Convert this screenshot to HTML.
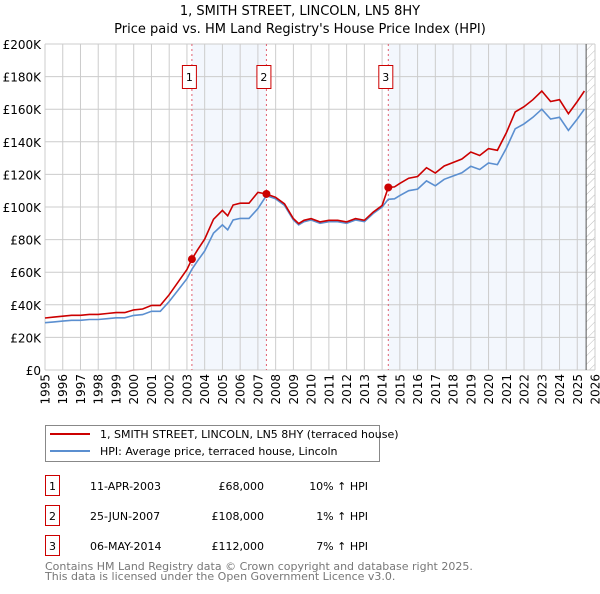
<!DOCTYPE html>
<html><head><meta charset="utf-8"><style>
body{margin:0;background:#fff;font-family:"DejaVu Sans","Liberation Sans",sans-serif;}
svg text{font-family:"DejaVu Sans","Liberation Sans",sans-serif;}
</style></head><body>
<svg id="chart" width="600" height="590" xmlns="http://www.w3.org/2000/svg">
<defs><pattern id="hatch" width="6" height="6" patternUnits="userSpaceOnUse" patternTransform="rotate(45)"><line x1="0" y1="0" x2="0" y2="6" stroke="#bbb" stroke-width="1"/></pattern></defs>
<text x="300" y="15" text-anchor="middle" font-size="13">1, SMITH STREET, LINCOLN, LN5 8HY</text>
<text x="300" y="33" text-anchor="middle" font-size="13">Price paid vs. HM Land Registry's House Price Index (HPI)</text>
<g id="plot"></g>
<rect x="45.5" y="425.5" width="334" height="36" fill="#fff" stroke="#888"/>
<line x1="50" y1="434" x2="90" y2="434" stroke="#cc0000" stroke-width="2"/>
<text x="100" y="438" font-size="11">1, SMITH STREET, LINCOLN, LN5 8HY (terraced house)</text>
<line x1="50" y1="451" x2="90" y2="451" stroke="#5b8fd0" stroke-width="2"/>
<text x="100" y="455" font-size="11">HPI: Average price, terraced house, Lincoln</text>
<g id="table" font-size="11"></g>
<text x="45" y="570" font-size="11" fill="#777">Contains HM Land Registry data © Crown copyright and database right 2025.</text>
<text x="45" y="580" font-size="11" fill="#777">This data is licensed under the Open Government Licence v3.0.</text>
</svg>
<script>
const hpiYears=[1995,1995.5,1996,1996.5,1997,1997.5,1998,1998.5,1999,1999.5,2000,2000.5,2001,2001.5,2002,2002.5,2003,2003.28,2003.6,2004,2004.5,2005,2005.3,2005.6,2006,2006.5,2007,2007.48,2008,2008.5,2009,2009.3,2009.6,2010,2010.5,2011,2011.5,2012,2012.5,2013,2013.5,2014,2014.35,2014.7,2015,2015.5,2016,2016.5,2017,2017.5,2018,2018.5,2019,2019.5,2020,2020.5,2021,2021.5,2022,2022.5,2023,2023.5,2024,2024.5,2025,2025.4];
const hpiValues=[29,29.5,30,30.5,30.5,31,31,31.5,32,32,33.5,34,36,36,42,49,56,61.8,67,73,84,89,86,92,93,93,99,107,105,101,92,89,91,92,90,91,91,90,92,91,96,100,104.7,105,107,110,111,116,113,117,119,121,125,123,127,126,136,148,151,155,160,154,155,147,154,160];
const saleYears=[2003.28,2007.48,2014.35];
const salePrices=[68,108,112];
const saleLabels=["1","2","3"];
const saleDates=["11-APR-2003","25-JUN-2007","06-MAY-2014"];
const salePriceText=["£68,000","£108,000","£112,000"];
const saleHpiText=["10% ↑ HPI","1% ↑ HPI","7% ↑ HPI"];
const yTicks=[0,20,40,60,80,100,120,140,160,180,200];
const xTickYears=[1995,1996,1997,1998,1999,2000,2001,2002,2003,2004,2005,2006,2007,2008,2009,2010,2011,2012,2013,2014,2015,2016,2017,2018,2019,2020,2021,2022,2023,2024,2025,2026];

const X0=45,X1=595,Y0=370,Y1=44;
const xs=y=>X0+(y-1995)/(2026-1995)*(X1-X0);
const ys=v=>Y0-v/200*(Y0-Y1);
const NS="http://www.w3.org/2000/svg";
const plot=document.getElementById('plot');
function mk(t,a,p){const e=document.createElementNS(NS,t);for(const k in a)e.setAttribute(k,a[k]);(p||plot).appendChild(e);return e;}
function hpiAt(y){for(let i=1;i<hpiYears.length;i++){if(y<=hpiYears[i]){const t=(y-hpiYears[i-1])/(hpiYears[i]-hpiYears[i-1]);return hpiValues[i-1]+t*(hpiValues[i]-hpiValues[i-1]);}}return hpiValues[hpiValues.length-1];}
let e=mk('rect',{x:xs(saleYears[0]),y:Y1,width:xs(saleYears[1])-xs(saleYears[0]),height:Y0-Y1,fill:'#eef3fc',opacity:0.7});


e=mk('rect',{x:xs(saleYears[2]),y:Y1,width:xs(2025.5)-xs(saleYears[2]),height:Y0-Y1,fill:'#eef3fc',opacity:0.7});


e=mk('rect',{x:xs(2025.5),y:Y1,width:X1-xs(2025.5),height:Y0-Y1,fill:'url(#hatch)'});


yTicks.forEach(v=>{const l=mk('line',{x1:X0,x2:X1,y1:ys(v),y2:ys(v),stroke:'#ccc'});


const t=mk('text',{x:X0-4,y:ys(v)+5,'text-anchor':'end','font-size':12});t.textContent=v===0?'£0':'£'+v+'K';

});
xTickYears.forEach(y=>{const l=mk('line',{x1:xs(y),x2:xs(y),y1:Y1,y2:Y0,stroke:'#ccc'});


const tx=xs(y)+4.5,ty=374;
const t=mk('text',{x:tx,y:ty,'text-anchor':'end','font-size':12,transform:'rotate(-90 '+tx+' '+ty+')'});t.textContent=y;

});
e=mk('line',{x1:xs(2025.5),x2:xs(2025.5),y1:Y1,y2:Y0,stroke:'#555'});


saleYears.forEach((y,i)=>{const l=mk('line',{x1:xs(y),x2:xs(y),y1:Y1,y2:Y0,stroke:'#e06070','stroke-dasharray':'2,3'});


const b=mk('rect',{x:xs(y)-9.5,y:65.5,width:14,height:23,fill:'#fff',stroke:'#cc0000'});


const t=mk('text',{x:xs(y)-2.5,y:81,'text-anchor':'middle','font-size':11});t.textContent=saleLabels[i];

});
let pts=hpiYears.map((y,i)=>xs(y).toFixed(1)+','+ys(hpiValues[i]).toFixed(1)).join(' ');
e=mk('polyline',{points:pts,fill:'none',stroke:'#5b8fd0','stroke-width':1.6});


const ratios=saleYears.map((y,i)=>salePrices[i]/hpiAt(y));
pts=hpiYears.map((y,i)=>{let k=0;for(let j=0;j<saleYears.length;j++)if(y>=saleYears[j]-1e-9)k=j;return xs(y).toFixed(1)+','+ys(hpiValues[i]*ratios[k]).toFixed(1);});
e=mk('polyline',{points:pts.join(' '),fill:'none',stroke:'#cc0000','stroke-width':1.6});


saleYears.forEach((y,i)=>{const c=mk('circle',{cx:xs(y),cy:ys(salePrices[i]),r:4,fill:'#cc0000'});

});
const tb=document.getElementById('table');
const rowY=[486,516,546];
saleLabels.forEach((s,i)=>{const y=rowY[i];
let r=mk('rect',{x:45.5,y:y-10.5,width:14,height:20,fill:'#fff',stroke:'#cc0000'},tb);


let t=mk('text',{x:52.5,y:y+4,'text-anchor':'middle'},tb);t.textContent=s;


t=mk('text',{x:90,y:y+4},tb);t.textContent=saleDates[i];


t=mk('text',{x:264,y:y+4,'text-anchor':'end'},tb);t.textContent=salePriceText[i];


t=mk('text',{x:368,y:y+4,'text-anchor':'end'},tb);t.textContent=saleHpiText[i];

});
</script>
</body></html>
